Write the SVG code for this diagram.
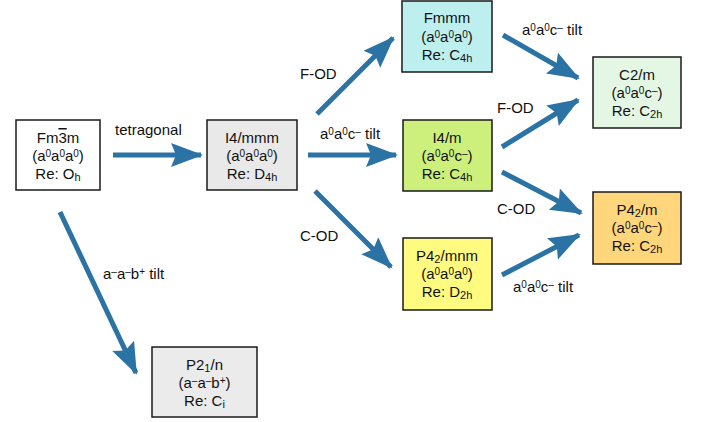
<svg xmlns="http://www.w3.org/2000/svg" width="714" height="422" viewBox="0 0 714 422">
<style>
  text { font-family: "Liberation Sans", Arial, sans-serif; font-size: 15px; fill: #111; }
  .box text { text-anchor: middle; }
  .box rect { stroke: #1a1a1a; stroke-width: 1.5; }
  .sub { font-size: 11px; }
  .sp { font-size: 10px; }
  .conn line { stroke: #2b73a4; stroke-width: 5; marker-end: url(#ah); }
</style>
<defs>
  <marker id="ah" markerUnits="userSpaceOnUse" markerWidth="34" markerHeight="26" refX="30" refY="12" orient="auto" viewBox="0 0 34 26">
    <path d="M0,0 L32,12 L0,24 L5,12 Z" fill="#2b73a4"/>
  </marker>
</defs>
<rect width="714" height="422" fill="#fff"/>

<g id="connectors" class="conn">
  <line x1="113" y1="155" x2="201" y2="155"/>
  <line x1="308" y1="155" x2="396" y2="155"/>
  <line x1="317" y1="114" x2="393" y2="38"/>
  <line x1="315" y1="191" x2="391" y2="267"/>
  <line x1="60" y1="212" x2="136" y2="373"/>
  <line x1="503" y1="35" x2="578" y2="78"/>
  <line x1="502" y1="147" x2="578" y2="100"/>
  <line x1="502" y1="172" x2="581" y2="213"/>
  <line x1="502" y1="275" x2="579" y2="235"/>
</g>

<g id="labels">
  <text x="115" y="135">tetragonal</text>
  <text x="320" y="139">a<tspan class="sp" dy="-4">0</tspan><tspan dy="4">a</tspan><tspan class="sp" dy="-4">0</tspan><tspan dy="4">c</tspan><tspan class="sp" dy="-4">–</tspan><tspan dy="4"> tilt</tspan></text>
  <text x="300" y="79">F-OD</text>
  <text x="300" y="241">C-OD</text>
  <text x="522" y="35">a<tspan class="sp" dy="-4">0</tspan><tspan dy="4">a</tspan><tspan class="sp" dy="-4">0</tspan><tspan dy="4">c</tspan><tspan class="sp" dy="-4">–</tspan><tspan dy="4"> tilt</tspan></text>
  <text x="497" y="113">F-OD</text>
  <text x="497" y="214">C-OD</text>
  <text x="513" y="292">a<tspan class="sp" dy="-4">0</tspan><tspan dy="4">a</tspan><tspan class="sp" dy="-4">0</tspan><tspan dy="4">c</tspan><tspan class="sp" dy="-4">–</tspan><tspan dy="4"> tilt</tspan></text>
  <text x="103" y="279">a<tspan class="sp" dy="-4">–</tspan><tspan dy="4">a</tspan><tspan class="sp" dy="-4">–</tspan><tspan dy="4">b</tspan><tspan class="sp" dy="-4">+</tspan><tspan dy="4"> tilt</tspan></text>
</g>

<g id="Fm3m" class="box">
  <rect x="16" y="120" width="84" height="70" fill="#ffffff"/>
  <text x="58" y="143">Fm<tspan style="text-decoration: overline">3</tspan>m</text>
  <text x="58" y="161">(a<tspan class="sp" dy="-4">0</tspan><tspan dy="4">a</tspan><tspan class="sp" dy="-4">0</tspan><tspan dy="4">a</tspan><tspan class="sp" dy="-4">0</tspan><tspan dy="4">)</tspan></text>
  <text x="58" y="179">Re: O<tspan class="sub" dy="2">h</tspan></text>
</g>

<g id="I4mmm" class="box">
  <rect x="207" y="120" width="90" height="70" fill="#e9e9e9"/>
  <text x="252" y="143">I4/mmm</text>
  <text x="252" y="161">(a<tspan class="sp" dy="-4">0</tspan><tspan dy="4">a</tspan><tspan class="sp" dy="-4">0</tspan><tspan dy="4">a</tspan><tspan class="sp" dy="-4">0</tspan><tspan dy="4">)</tspan></text>
  <text x="252" y="179">Re: D<tspan class="sub" dy="2">4h</tspan></text>
</g>

<g id="Fmmm" class="box">
  <rect x="402" y="1" width="90" height="71" fill="#bdefee"/>
  <text x="447" y="23">Fmmm</text>
  <text x="447" y="42">(a<tspan class="sp" dy="-4">0</tspan><tspan dy="4">a</tspan><tspan class="sp" dy="-4">0</tspan><tspan dy="4">a</tspan><tspan class="sp" dy="-4">0</tspan><tspan dy="4">)</tspan></text>
  <text x="447" y="60">Re: C<tspan class="sub" dy="2">4h</tspan></text>
</g>

<g id="I4m" class="box">
  <rect x="403" y="120" width="89" height="71" fill="#ccf07b"/>
  <text x="447" y="143">I4/m</text>
  <text x="447" y="161">(a<tspan class="sp" dy="-4">0</tspan><tspan dy="4">a</tspan><tspan class="sp" dy="-4">0</tspan><tspan dy="4">c</tspan><tspan class="sp" dy="-4">–</tspan><tspan dy="4">)</tspan></text>
  <text x="447" y="179">Re: C<tspan class="sub" dy="2">4h</tspan></text>
</g>

<g id="P42mnm" class="box">
  <rect x="403" y="238" width="89" height="72" fill="#fffa80"/>
  <text x="447" y="261">P4<tspan class="sub" dy="2">2</tspan><tspan dy="-2">/mnm</tspan></text>
  <text x="447" y="279">(a<tspan class="sp" dy="-4">0</tspan><tspan dy="4">a</tspan><tspan class="sp" dy="-4">0</tspan><tspan dy="4">a</tspan><tspan class="sp" dy="-4">0</tspan><tspan dy="4">)</tspan></text>
  <text x="447" y="297">Re: D<tspan class="sub" dy="2">2h</tspan></text>
</g>

<g id="C2m" class="box">
  <rect x="593" y="57" width="88" height="71" fill="#e4f7e4"/>
  <text x="637" y="80">C2/m</text>
  <text x="637" y="98">(a<tspan class="sp" dy="-4">0</tspan><tspan dy="4">a</tspan><tspan class="sp" dy="-4">0</tspan><tspan dy="4">c</tspan><tspan class="sp" dy="-4">–</tspan><tspan dy="4">)</tspan></text>
  <text x="637" y="116">Re: C<tspan class="sub" dy="2">2h</tspan></text>
</g>

<g id="P42m" class="box">
  <rect x="593" y="192" width="88" height="72" fill="#ffd67c"/>
  <text x="637" y="215">P4<tspan class="sub" dy="2">2</tspan><tspan dy="-2">/m</tspan></text>
  <text x="637" y="233">(a<tspan class="sp" dy="-4">0</tspan><tspan dy="4">a</tspan><tspan class="sp" dy="-4">0</tspan><tspan dy="4">c</tspan><tspan class="sp" dy="-4">–</tspan><tspan dy="4">)</tspan></text>
  <text x="637" y="251">Re: C<tspan class="sub" dy="2">2h</tspan></text>
</g>

<g id="P21n" class="box">
  <rect x="152" y="347" width="105" height="70" fill="#ebebeb"/>
  <text x="204.5" y="370">P2<tspan class="sub" dy="2">1</tspan><tspan dy="-2">/n</tspan></text>
  <text x="204.5" y="388">(a<tspan class="sp" dy="-4">–</tspan><tspan dy="4">a</tspan><tspan class="sp" dy="-4">–</tspan><tspan dy="4">b</tspan><tspan class="sp" dy="-4">+</tspan><tspan dy="4">)</tspan></text>
  <text x="204.5" y="406">Re: C<tspan class="sub" dy="2">i</tspan></text>
</g>
</svg>
